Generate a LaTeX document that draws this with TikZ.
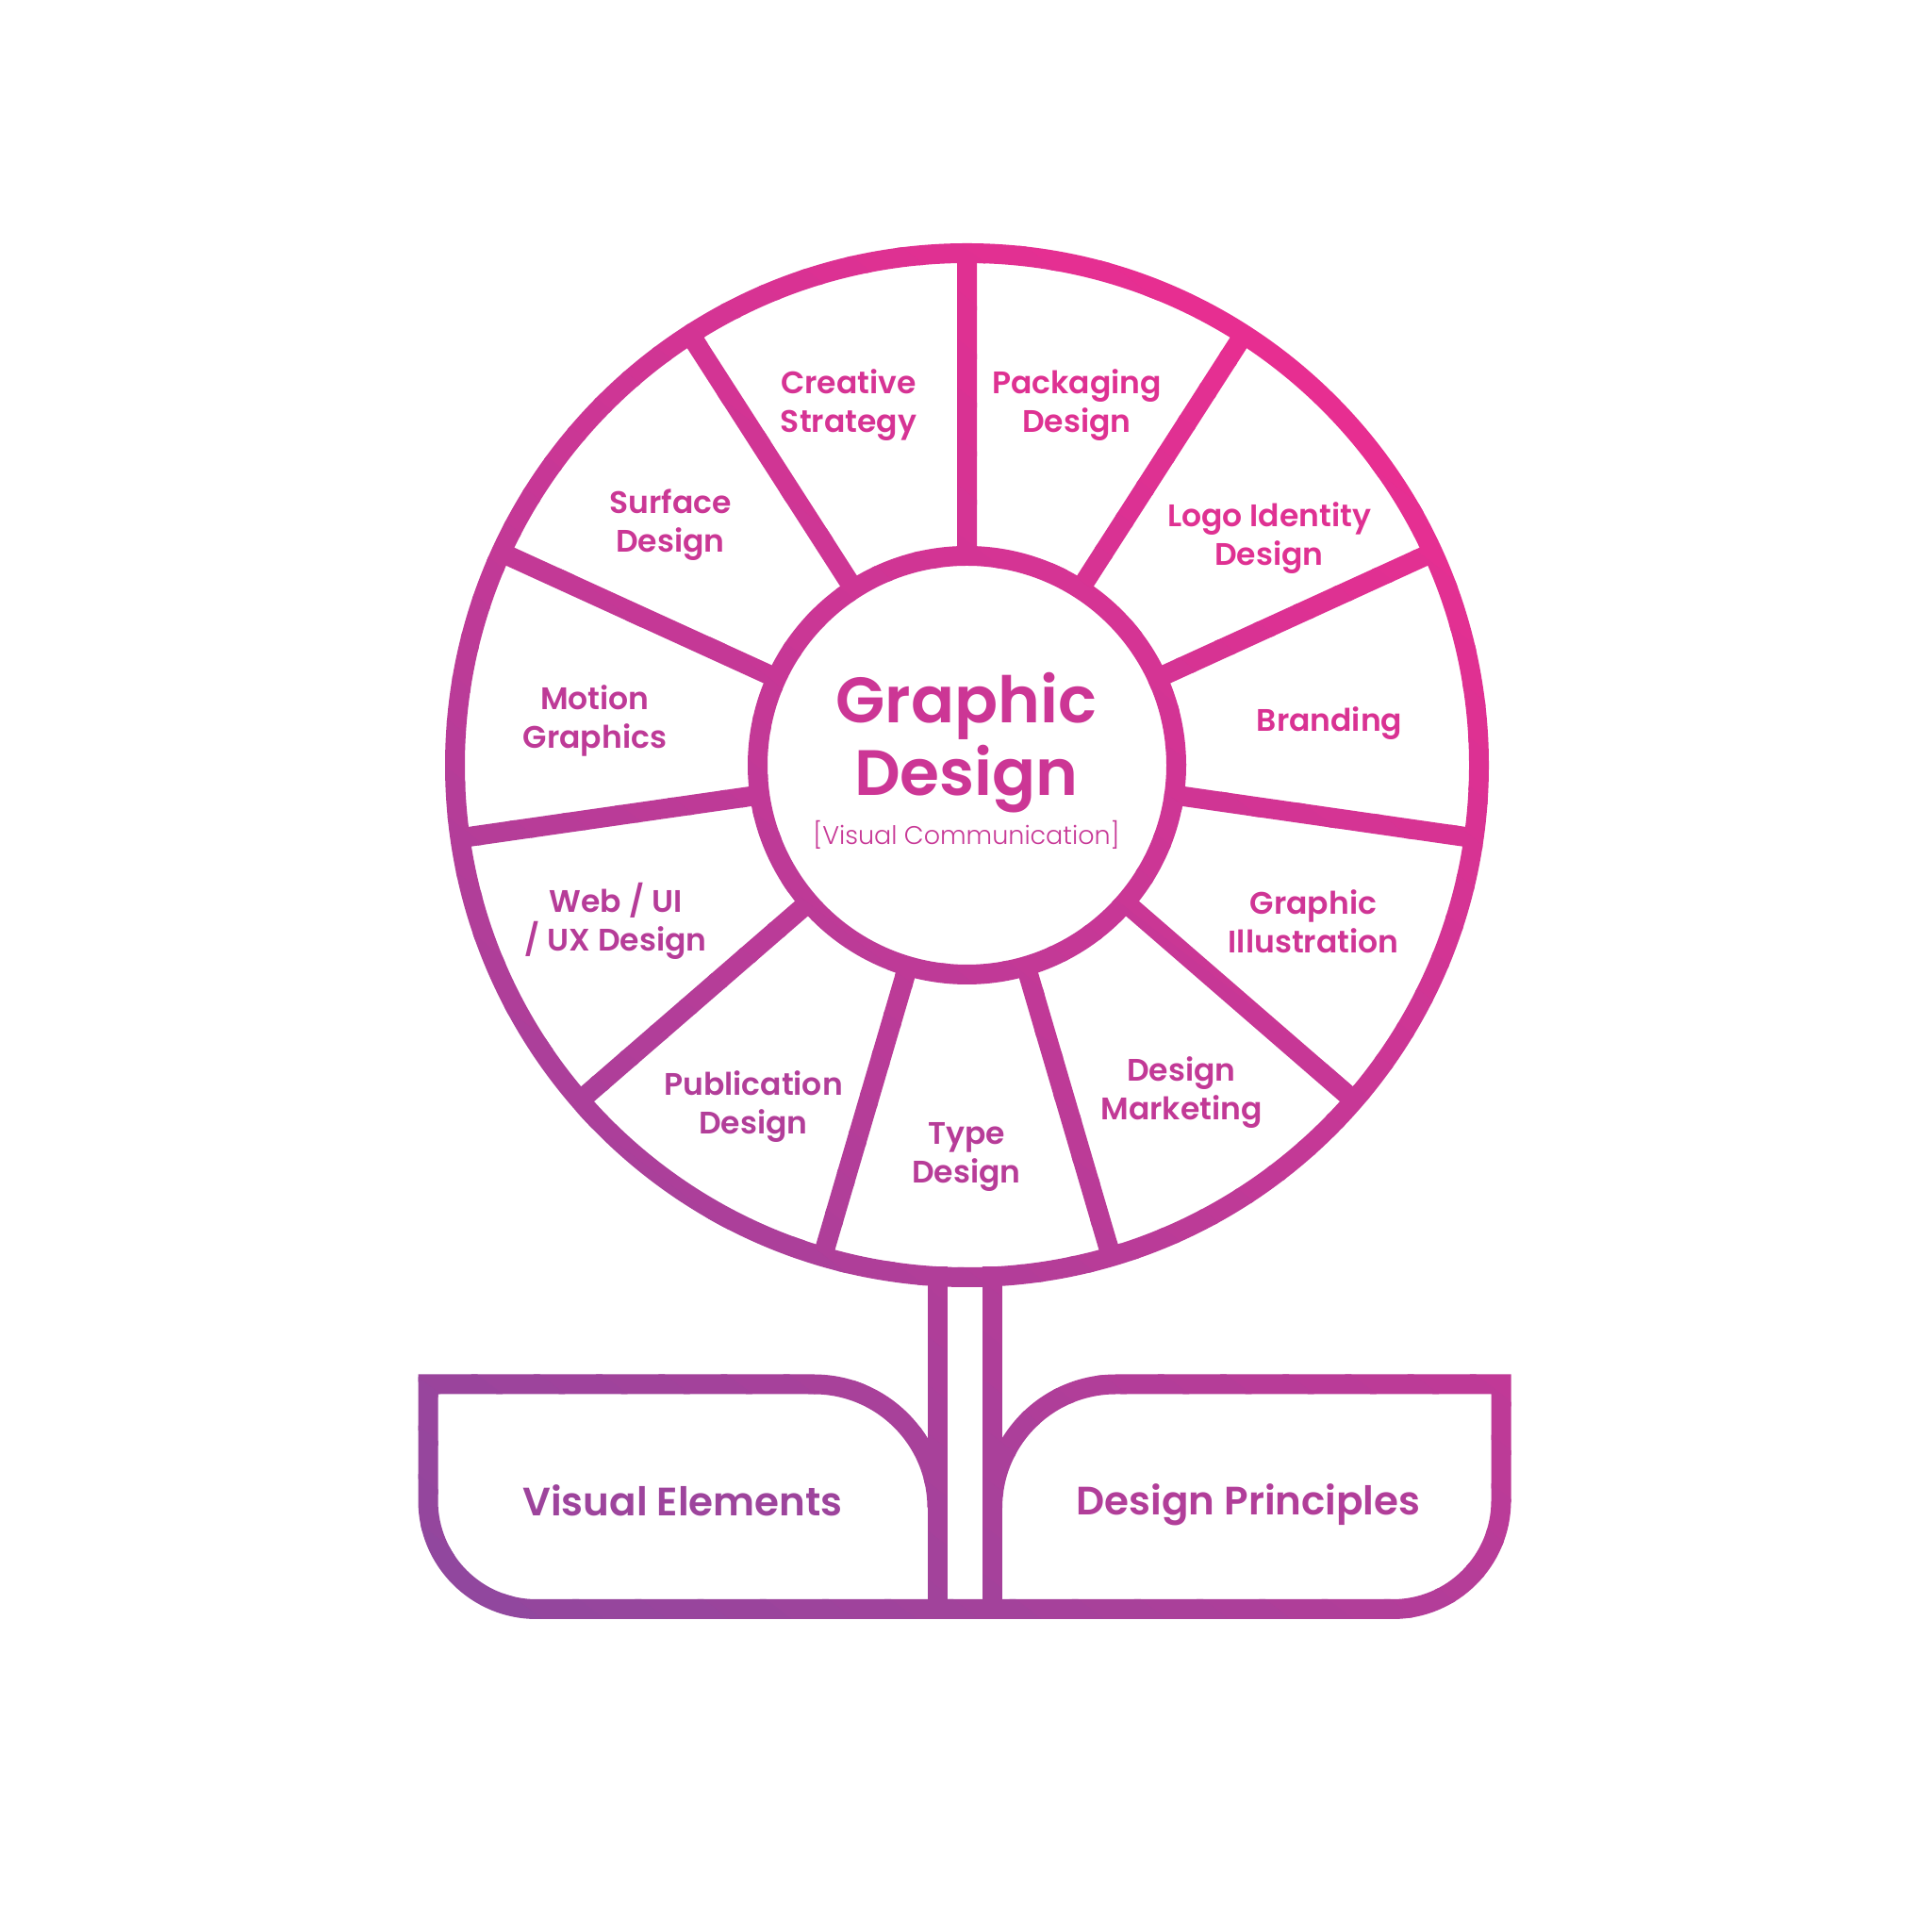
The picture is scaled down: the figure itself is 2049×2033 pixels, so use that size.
\documentclass[tikz,border=0pt]{standalone}
\usepackage{fontspec}
\usetikzlibrary{calc}
\IfFontExistsTF{Poppins SemiBold}
  {\newfontfamily\labfont{Poppins SemiBold}}
  {\newfontfamily\labfontbase{Poppins}\newcommand\labfont{\labfontbase\bfseries}}
\IfFontExistsTF{Poppins Light}
  {\newfontfamily\subfont{Poppins Light}}
  {\newfontfamily\subfont{Poppins}}
\definecolor{gpink}{RGB}{232,46,145}
\definecolor{gpurple}{RGB}{142,72,158}
\newcommand\drawflower[1]{%
  \draw[#1] (C) circle[radius=543];
  \draw[#1] (C) circle[radius=222];
  \draw[#1] \foreach \k in {0,...,10}{
      ($(C)+({90-\k*32.7272727}:222)$) -- ($(C)+({90-\k*32.7272727}:543)$)};
  \draw[#1] (stemL) -- (994,326.5) (stemR) -- (1052.5,326.5);
  \draw[#1] (994,434) arc[start angle=0,end angle=90,radius=131]
     -- (454,565) -- (454,441.5) arc[start angle=180,end angle=270,radius=115]
     -- (1477,326.5) arc[start angle=270,end angle=360,radius=115]
     -- (1592,565) -- (1183.5,565) arc[start angle=90,end angle=180,radius=131];
}
\tikzset{
  lab/.style={font=\labfont\fontsize{16.5}{20.5}\selectfont, align=center, inner sep=0pt},
  title/.style={font=\labfont\fontsize{34}{38.5}\selectfont, align=center, inner sep=0pt},
  subtitle/.style={font=\subfont\fontsize{13.5}{16}\selectfont, inner sep=0pt},
  potlab/.style={font=\labfont\fontsize{21}{24}\selectfont, inner sep=0pt},
}
\begin{document}
\begin{tikzpicture}[x=0.5pt,y=0.5pt,line width=10.5pt]
\useasboundingbox (0,0) rectangle (2049,2033);
\fill[white] (0,0) rectangle (2049,2033);
\coordinate (C) at (1025.5,1221.5);
\coordinate (stemL) at (994,690);
\coordinate (stemR) at (1052.5,690);
% gradient strokes, drawn in overlapping diagonal bands
\foreach \i in {0,...,39}{
  \pgfmathsetmacro\pa{ifthenelse(\i==0,-400,\i*40.6625)}
  \pgfmathsetmacro\pb{ifthenelse(\i==39,2200,(\i+1)*40.6625+4)}
  \pgfmathsetmacro\pp{100-(\i+0.5)*2.5}
  \begin{scope}
    \clip[shift={(1365,1659)},rotate=232.1] (\pa,-2500) rectangle (\pb,2500);
    \drawflower{gpink!\pp!gpurple}
  \end{scope}
}
% labels
\node[lab, text=gpink!80!gpurple] (cs) at (900,1603) {Creative\\Strategy};
\node[lab, text=gpink!89!gpurple] (pd) at (1142,1603) {Packaging\\Design};
\node[lab, text=gpink!90!gpurple] (li) at (1346,1462) {Logo Identity\\Design};
\node[lab, text=gpink!83!gpurple] (br) at (1410,1266) {Branding};
\node[lab, text=gpink!72!gpurple] (gi) at (1393,1056) {Graphic\\Illustration};
\node[lab, text=gpink!58!gpurple] (dm) at (1253,874) {Design\\Marketing};
\node[lab, text=gpink!46!gpurple] (td) at (1025,806) {Type\\Design};
\node[lab, text=gpink!40!gpurple] (pub) at (799,859) {Publication\\Design};
\node[lab, text=gpink!44!gpurple] (web) at (653,1056) {Web / UI\\/ UX Design};
\node[lab, text=gpink!54!gpurple] (mg) at (631,1269) {Motion\\Graphics};
\node[lab, text=gpink!67!gpurple] (sd) at (711,1476) {Surface\\Design};
\node[title, text=gpink!69!gpurple] (gd) at (1025,1245) {Graphic\\Design};
\node[subtitle, text=gpink!63!gpurple] (vc) at (1025,1148) {[Visual Communication]};
\node[potlab, text=gpink!17!gpurple] (ve) at (724,442) {Visual Elements};
\node[potlab, text=gpink!39!gpurple] (dp) at (1324,437) {Design Principles};
\end{tikzpicture}
\end{document}
